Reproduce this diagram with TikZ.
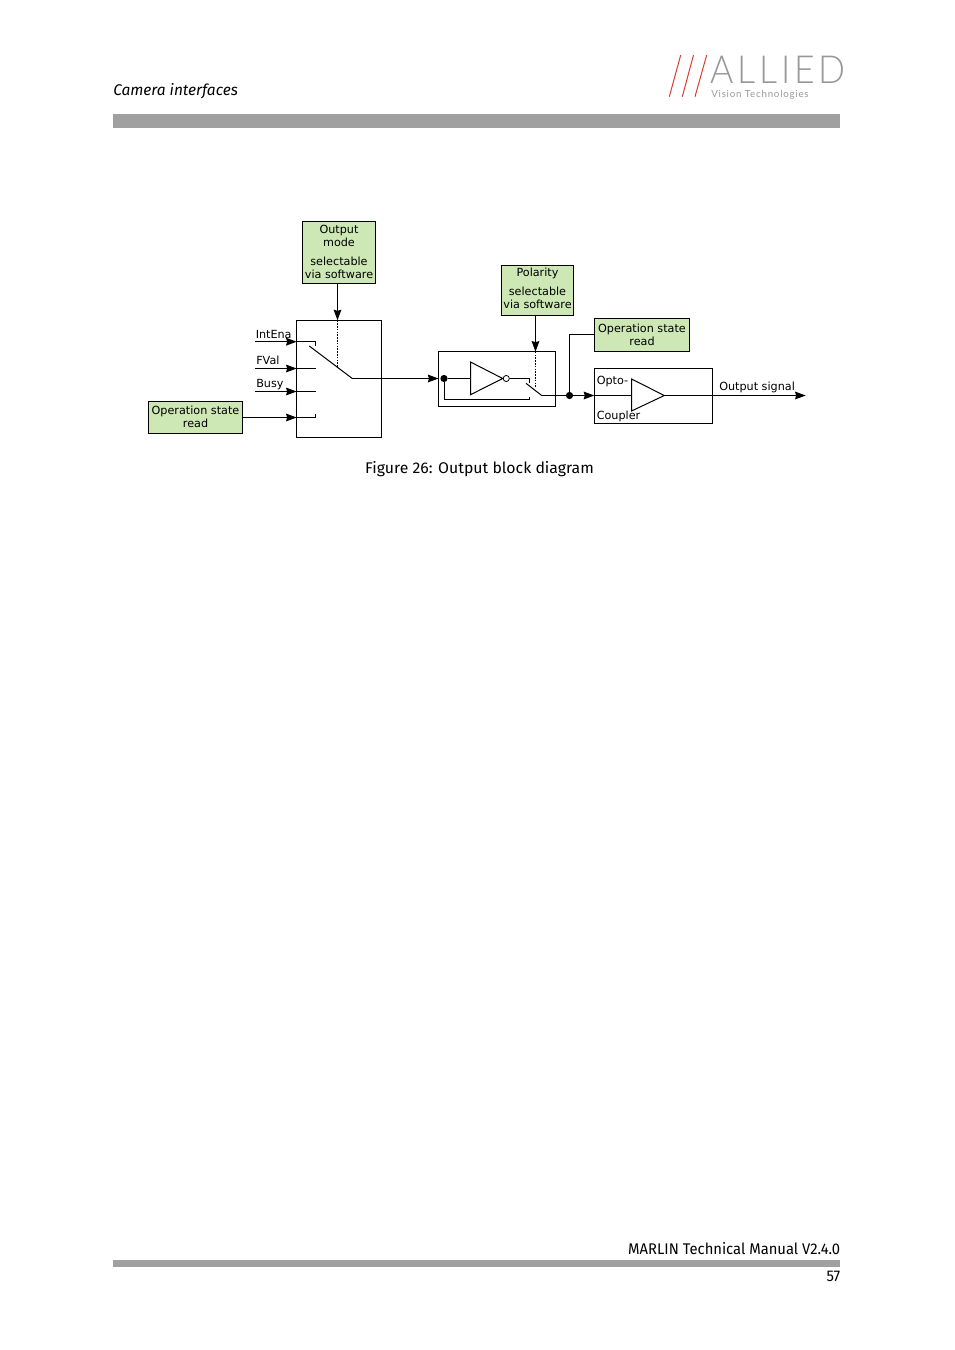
\documentclass[tikz,border=0pt]{standalone}
\usepackage{fontspec}
\setmainfont{DejaVu Sans}
\newfontfamily\headfont{Fira Sans}
\newfontfamily\capfont[FakeStretch=1.022]{Fira Sans}
\newfontfamily\manfont[FakeStretch=0.955]{Fira Sans}
\newfontfamily\logofont[LetterSpace=10,FakeStretch=0.92]{Lato Light}
\newfontfamily\logosmall[LetterSpace=8]{Lato}
\usetikzlibrary{arrows.meta,calc}
\definecolor{boxgreen}{HTML}{CDE8B5}
\definecolor{bargray}{HTML}{A0A0A0}
\definecolor{logogray}{HTML}{989898}
\definecolor{logored}{HTML}{DC3A32}
\tikzset{
  wire/.style={draw=black,line width=.75pt},
  arrowwire/.style={wire,-{Stealth[length=8pt,width=5.8pt,inset=.9pt]}},
  dotwire/.style={wire,dash pattern=on 1.2pt off .9pt},
  greenbox/.style={draw=black,line width=.75pt,fill=boxgreen,align=center,inner sep=0pt,outer sep=0pt,font=\fontsize{8.4}{9.75}\selectfont},
  frame/.style={draw=black,line width=.75pt,inner sep=0pt,outer sep=0pt},
  tri/.style={draw=black,line width=.75pt,fill=white},
  lab/.style={font=\fontsize{8.4}{9.75}\selectfont,inner sep=0pt,anchor=base west},
  junction/.style={circle,fill=black,inner sep=0pt,minimum size=5.4pt},
  bubble/.style={circle,draw=black,fill=white,line width=.6pt,inner sep=0pt,minimum size=4.6pt},
  bar/.style={fill=bargray,draw=none,inner sep=0pt,outer sep=0pt},
  head/.style={font=\headfont\fontsize{11.6}{13}\selectfont,inner sep=0pt},
  stripe/.style={draw=logored,line width=.75pt}
}
\begin{document}
\begin{tikzpicture}[x=.75pt,y=-.75pt]
\useasboundingbox (0,0) rectangle (954,1350);
% page furniture
\node[bar,minimum width=545.25pt,minimum height=10.5pt] (topbar) at (476.5,121) {};
\node[bar,minimum width=545.25pt,minimum height=5.25pt] (botbar) at (476.5,1263.5) {};
\node[head,anchor=base west] (title) at (113,95) {\itshape Camera interfaces};
\node[head,anchor=base east] (manual) at (840.5,1254) {\manfont MARLIN Technical Manual V2.4.0};
\node[head,anchor=base east] (page) at (840.5,1281.5) {\manfont 57};
\node[head,anchor=base] (caption) at (479.5,473) {\capfont Figure 26: Output block diagram};
% logo
\coordinate (s1a) at (680.7,55); \coordinate (s1b) at (669.3,96.7);
\coordinate (s2a) at (693.5,55); \coordinate (s2b) at (682.3,96.7);
\coordinate (s3a) at (706.7,55); \coordinate (s3b) at (695,96.7);
\draw[stripe] (s1a) -- (s1b);
\draw[stripe] (s2a) -- (s2b);
\draw[stripe] (s3a) -- (s3b);
\node[inner sep=0pt,anchor=base west,text=logogray,font=\logofont\fontsize{29}{30}\selectfont] (allied) at (710,83.5) {ALLIED};
\node[inner sep=0pt,anchor=base west,text=logogray,font=\logosmall\fontsize{7.3}{8}\selectfont] (vision) at (711,97) {Vision Technologies};
% boxes
\node[frame,minimum width=63.75pt,minimum height=87.75pt] (mux) at (339,379) {};
\node[frame,minimum width=87.75pt,minimum height=41.25pt] (inv) at (497,379) {};
\node[frame,minimum width=88.5pt,minimum height=41.25pt] (opto) at (653.5,395.5) {};
\node[greenbox,minimum width=54.75pt,minimum height=46.5pt] (om) at (339,252.5) {Output\\mode\\[4.5pt]selectable\\via software\\[-8.25pt]\mbox{}};
\node[greenbox,minimum width=54pt,minimum height=37.5pt] (pol) at (537.5,290.5) {Polarity\\[4.5pt]selectable\\via software\\[-6.75pt]\mbox{}};
\node[greenbox,minimum width=70.5pt,minimum height=24pt] (opl) at (195.5,417) {Operation state\\read};
\node[greenbox,minimum width=71.25pt,minimum height=24.75pt] (opr) at (642,335) {Operation state\\read};
% labels
\node[lab] (lint) at (255.5,338) {IntEna};
\node[lab] (lfv) at (256,364) {FVal};
\node[lab] (lbu) at (256,387) {Busy};
\node[lab] (lop) at (596.5,384) {Opto-};
\node[lab] (lco) at (596.5,419) {Coupler};
\node[lab] (lou) at (719,390) {Output signal};
% mux inputs
\coordinate (i1s) at (255,341.7); \coordinate (i1m) at (296.7,341.7); \coordinate (i1e) at (315.5,341.7); \coordinate (i1t) at (315.5,346);
\coordinate (i2s) at (255,368.5); \coordinate (i2m) at (296.7,368.5); \coordinate (i2e) at (315.5,368.5);
\coordinate (i3s) at (255,391.5); \coordinate (i3m) at (296.7,391.5); \coordinate (i3e) at (315.5,391.5);
\coordinate (i4m) at (296.7,417.5); \coordinate (i4e) at (315.5,417.5); \coordinate (i4t) at (315.5,414);
\draw[arrowwire,line width=1.1pt] (i1s) -- (i1m);
\draw[wire,line width=1.1pt] (i1m) -- (i1e);
\draw[wire] (i1e) -- (i1t);
\draw[arrowwire] (i2s) -- (i2m);
\draw[wire] (i2m) -- (i2e);
\draw[arrowwire] (i3s) -- (i3m);
\draw[wire] (i3m) -- (i3e);
\draw[arrowwire] (opl.east |- i4m) -- (i4m);
\draw[wire] (i4m) -- (i4e) -- (i4t);
% mux switch
\coordinate (sw1a) at (309.3,346); \coordinate (sw1b) at (352.3,378.5); \coordinate (sw1c) at (337.5,367);
\coordinate (om1) at (337.5,284); \coordinate (om2) at (337.5,320.3);
\draw[wire] (sw1a) -- (sw1b);
\draw[arrowwire] (om1) -- (om2);
\draw[dotwire] (om2) -- (sw1c);
\draw[arrowwire] (sw1b) -- (sw1b -| inv.west);
% inverter block
\node[junction] (d1) at (444,378.5) {};
\coordinate (t1) at (470.5,362); \coordinate (t2) at (470.5,394.7); \coordinate (t3) at (502.7,378.5);
\coordinate (t1m) at (470.5,378.5);
\draw[wire] (d1) -- (t1m);
\draw[tri] (t1) -- (t2) -- (t3) -- cycle;
\node[bubble] (bub) at (506.3,378.5) {};
\coordinate (up) at (529.5,378.5); \coordinate (upt) at (529.5,382.7);
\draw[wire] (bub) -- (up) -- (upt);
\coordinate (lowa) at (444,399.5); \coordinate (lowb) at (529.5,399.5); \coordinate (lowt) at (529.5,397);
\draw[wire] (d1) -- (lowa) -- (lowb) -- (lowt);
\coordinate (sw2a) at (526,383.3); \coordinate (sw2b) at (541.7,395.5); 
\draw[wire] (sw2a) -- (sw2b);
\coordinate (pa) at (535.5,316); \coordinate (pb) at (535.5,351.7); \coordinate (pc) at (535.5,386.7);
\draw[arrowwire] (pa) -- (pb);
\draw[dotwire] (pb) -- (pc);
% to optocoupler
\node[junction] (d2) at (569.5,395.5) {};
\draw[wire] (sw2b) -- (d2);
\coordinate (oin) at (594.3,395.5);
\draw[arrowwire] (d2) -- (oin);
\coordinate (rcorner) at (569.5,334.5);
\draw[wire] (d2) -- (rcorner) -- (rcorner -| opr.west);
% opto amp
\coordinate (a1) at (631.5,379); \coordinate (a2) at (631.5,411); \coordinate (a3) at (664.3,395.5); \coordinate (a1m) at (631.5,395.5);
\coordinate (out) at (805.7,395.5);
\draw[wire] (oin) -- (a1m);
\draw[tri] (a1) -- (a2) -- (a3) -- cycle;
\draw[arrowwire] (a3) -- (out);
\end{tikzpicture}
\end{document}
